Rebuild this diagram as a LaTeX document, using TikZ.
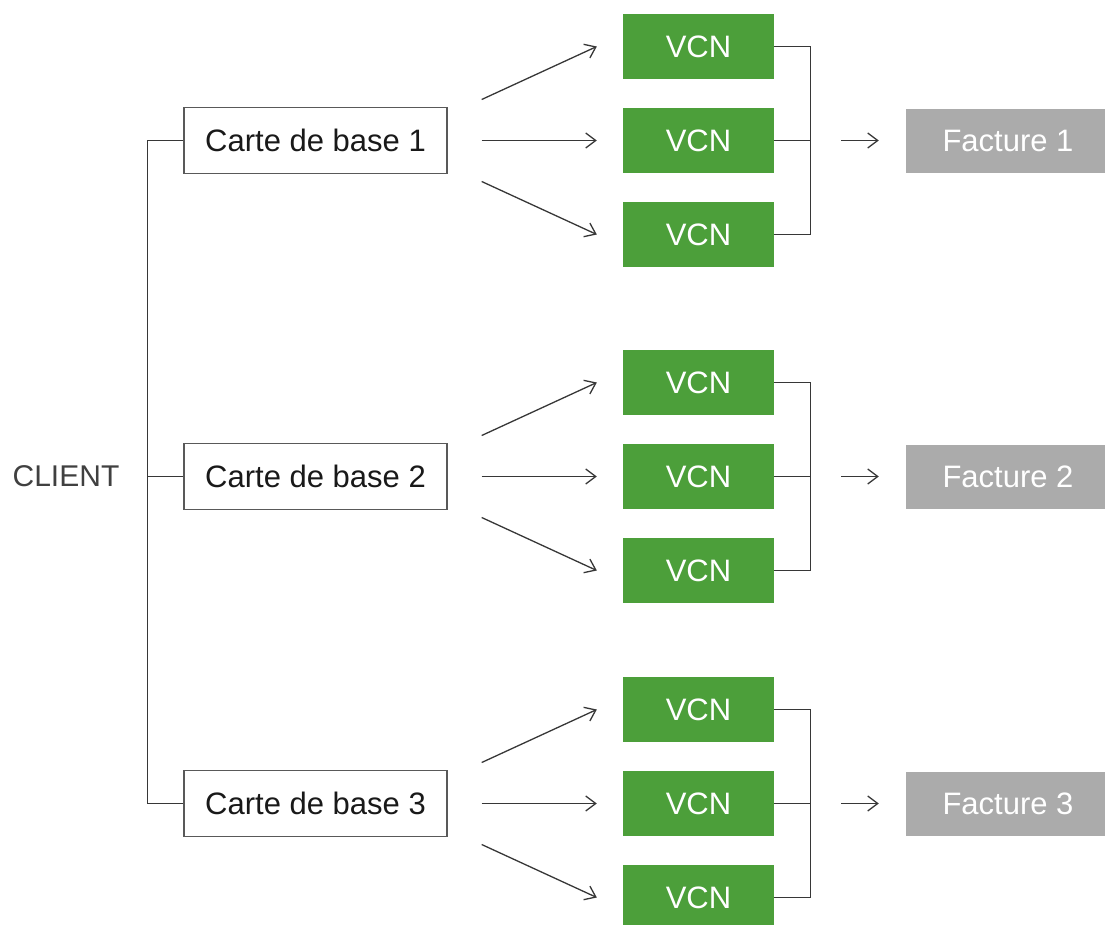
\documentclass[tikz,border=0pt]{standalone}
\usepackage{fontspec}
\setmainfont{Liberation Sans}
\usetikzlibrary{arrows.meta}
\usetikzlibrary{calc}
\usepackage{xcolor}

\definecolor{vcngreen}{RGB}{76,159,58}
\definecolor{factgray}{RGB}{171,171,171}
\definecolor{linegray}{RGB}{55,55,55}

\tikzset{
  carte/.style={draw=black!65, line width=1.4pt, minimum width=263pt, minimum height=66pt,
    inner sep=0pt, text=black!90, font=\fontsize{31}{37}\selectfont},
  vcn/.style={fill=vcngreen, minimum width=151pt, minimum height=65pt, inner sep=0pt,
    text=white, font=\fontsize{31}{37}\selectfont},
  facture/.style={fill=factgray, minimum width=204pt, minimum height=64pt, inner sep=0pt,
    text=white, font=\fontsize{31}{37}\selectfont},
  link/.style={draw=linegray, line width=1.3pt},
  arr/.style={link, -{Straight Barb[length=10pt,width=15pt]}}
}

\begin{document}
\begin{tikzpicture}[x=1pt,y=-1pt]

        \useasboundingbox (0,0) rectangle (1105,924);
        \clip (0,0) rectangle (1105,924);

        % Client
        \node[font=\fontsize{30}{36}\selectfont, text=black!75] (client) at (66,476) {CLIENT};

        % Groups
        \foreach \g/\y in {1/140.5,2/476.5,3/803.5}
        {
          \node[carte] (carte\g) at (315.5,\y) {Carte de base \g};
          \node[vcn] (vcnA\g) at (698.5,\y-94) {VCN};
          \node[vcn] (vcnB\g) at (698.5,\y) {VCN};
          \node[vcn] (vcnC\g) at (698.5,\y+94) {VCN};
          \node[facture] (fact\g) at (1008,\y) {Facture \g};

          % Arrows to the VCN
          \draw[arr] ($(carte\g.east)+(34,-41)$) -- ($(vcnA\g.west)+(-26,0)$);
          \draw[arr, shorten <=34pt, shorten >=26pt] (carte\g.east) -- (vcnB\g.west);
          \draw[arr] ($(carte\g.east)+(34,41)$) -- ($(vcnC\g.west)+(-26,0)$);

          % Merge
          \draw[link] (vcnA\g.east) -- ++(36,0) |- (vcnC\g.east);
          \draw[link] (vcnB\g.east) -- ++(36,0) coordinate (j\g);
          \draw[arr, shorten <=31pt, shorten >=27pt] (j\g) -- (fact\g.west);
        }

        % Bracket
        \draw[link] (carte1.west) -- ++(-36,0) |- (carte3.west);
        \draw[link] (carte2.west) -- ++(-36,0);

\end{tikzpicture}
\end{document}
